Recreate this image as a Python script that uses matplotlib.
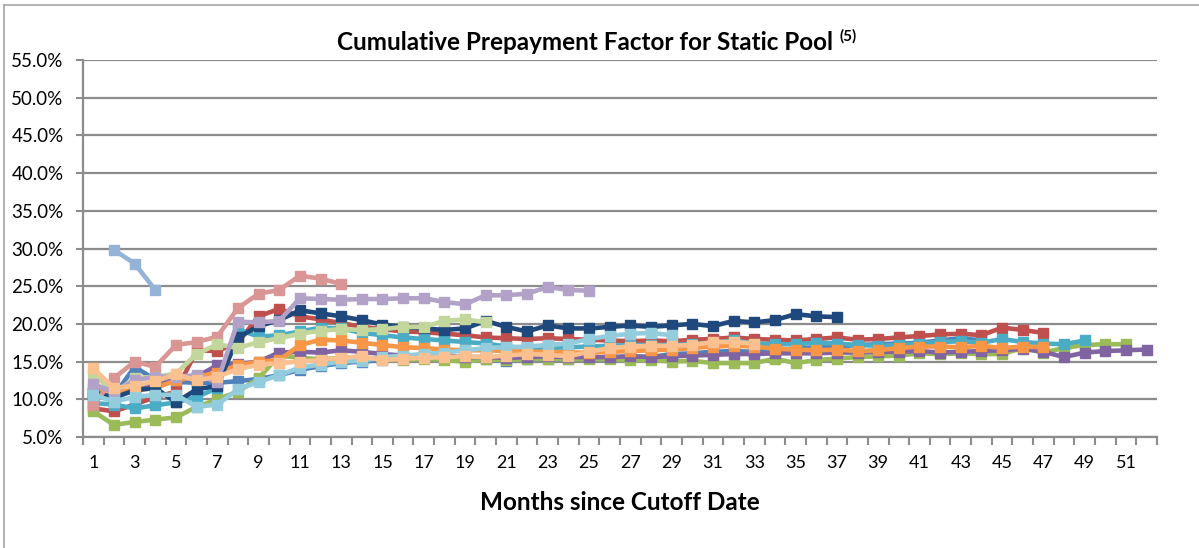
import numpy as np
import matplotlib
matplotlib.use("Agg")
from matplotlib import pyplot as plt
from matplotlib.lines import Line2D

plt.rcParams['font.family'] = ['Lato', 'DejaVu Sans']

# Cumulative prepayment factor (%) by months since cutoff, one list per pool
blue = [10.2, 10.5, 14.3, 12.6, 12.3, 12.2, 12.2, 12.4, 12.7, 13.2, 13.9, 14.4, 14.8, 15.0, 15.2, 15.4,
        15.5, 15.5, 15.4, 15.3, 15.1, 15.3, 15.4, 15.3, 15.5, 15.5, 15.7, 15.6, 16.0, 16.1, 16.3, 16.4,
        16.3, 16.5, 16.7, 16.9, 17.0, 17.2, 17.3, 17.4, 17.5, 17.8, 18.1, 17.8]
red = [8.8, 8.4, 9.3, 10.3, 11.0, 16.5, 16.4, 17.5, 21.0, 22.0, 21.0, 20.6, 20.1, 19.6, 19.3, 19.0,
       18.9, 18.7, 18.5, 18.2, 18.1, 18.0, 18.1, 18.0, 17.9, 17.8, 17.7, 17.8, 17.7, 17.9, 18.0, 18.2,
       18.0, 17.9, 17.8, 18.0, 18.2, 17.9, 18.0, 18.2, 18.4, 18.6, 18.7, 18.5, 19.5, 19.2, 18.8]
green = [8.4, 6.6, 7.0, 7.3, 7.6, 9.0, 10.0, 11.0, 12.8, 15.8, 15.5, 15.3, 15.5, 15.4, 15.3, 15.2,
         15.4, 15.2, 15.0, 15.3, 15.2, 15.3, 15.4, 15.3, 15.4, 15.3, 15.2, 15.2, 15.0, 15.1, 14.8, 14.8,
         14.8, 15.4, 14.8, 15.2, 15.4, 15.6, 15.7, 15.8, 16.1, 16.0, 16.1, 16.0, 16.0, 16.8, 16.2, 16.8,
         17.2, 17.3, 17.3]
purple = [10.8, 10.3, 11.5, 12.0, 12.8, 13.0, 14.5, 14.7, 15.0, 16.2, 16.3, 16.2, 16.5, 16.3, 16.0, 15.8,
          15.7, 15.8, 15.6, 15.6, 15.5, 15.6, 15.7, 15.6, 15.6, 15.6, 15.7, 15.6, 15.7, 15.8, 15.9, 16.0,
          16.0, 16.1, 16.1, 16.1, 16.2, 16.2, 16.3, 16.3, 16.4, 16.2, 16.3, 16.4, 16.5, 16.7, 16.3, 15.6,
          16.2, 16.4, 16.5, 16.6]
aqua = [9.5, 9.3, 8.8, 9.2, 9.6, 10.3, 11.5, 19.3, 18.3, 18.5, 19.0, 19.5, 19.4, 18.8, 18.5, 18.2,
        18.0, 17.8, 17.6, 17.4, 17.0, 16.8, 16.8, 16.9, 17.0, 17.1, 17.2, 17.2, 17.2, 17.3, 17.5, 17.8,
        17.4, 17.3, 17.3, 17.5, 17.4, 17.2, 17.1, 17.2, 17.4, 17.6, 17.7, 17.5, 18.0, 17.6, 17.4, 17.3,
        17.8]
orange = [11.5, 11.0, 11.2, 11.5, 12.5, 13.0, 13.5, 14.5, 15.0, 15.2, 17.2, 17.9, 17.8, 17.5, 17.2, 16.9,
          16.8, 16.6, 16.5, 16.5, 16.4, 16.3, 16.3, 16.2, 16.2, 16.3, 16.4, 16.5, 16.6, 16.8, 17.0, 17.1,
          17.0, 16.7, 16.6, 16.5, 16.6, 16.4, 16.5, 16.8, 17.0, 17.0, 16.9, 17.1, 16.8, 17.0, 16.9]
navy = [11.0, 10.2, 11.2, 11.5, 9.6, 11.3, 11.8, 18.2, 19.7, 20.5, 21.8, 21.4, 21.0, 20.5, 19.9, 19.6,
        19.4, 19.2, 19.4, 20.4, 19.6, 19.0, 19.8, 19.4, 19.4, 19.6, 19.8, 19.6, 19.8, 20.0, 19.7, 20.4,
        20.2, 20.5, 21.3, 21.0, 20.9]
light_blue = [np.nan, 29.8, 28.0, 24.5]
light_red = [9.2, 12.8, 15.0, 14.3, 17.2, 17.6, 18.3, 22.1, 24.0, 24.5, 26.4, 26.0, 25.3]
light_green = [13.4, 10.8, 12.8, 13.0, 13.4, 16.0, 17.3, 16.8, 17.6, 18.1, 18.7, 19.1, 19.3, 19.2, 19.3,
               19.6, 19.6, 20.4, 20.6, 20.2]
light_purple = [12.0, 11.0, 12.5, 13.0, 13.0, 13.2, 12.3, 20.3, 20.2, 20.4, 23.4, 23.3, 23.2, 23.3, 23.3,
                23.4, 23.4, 22.9, 22.6, 23.8, 23.8, 24.0, 24.9, 24.5, 24.4]
light_aqua = [10.6, 9.7, 10.3, 10.6, 10.6, 9.0, 9.3, 11.3, 12.3, 13.2, 14.2, 14.6, 15.0, 15.1, 15.6, 15.8,
              16.0, 16.2, 16.5, 16.8, 16.9, 17.0, 17.2, 17.4, 18.0, 18.4, 18.7, 18.8, 18.5]
light_orange = [14.1, 11.5, 11.8, 12.4, 13.3, 12.5, 13.0, 14.0, 14.6, 14.8, 15.0, 15.2, 15.5, 15.7, 15.2,
                15.4, 15.5, 15.6, 15.7, 15.6, 15.8, 16.0, 15.9, 15.7, 16.3, 16.8, 17.0, 17.1, 17.1, 17.2,
                17.6, 17.6, 17.4]

series = [
    (blue, '#4F81BD'), (red, '#C0504D'), (green, '#9BBB59'), (purple, '#8064A2'),
    (aqua, '#4BACC6'), (orange, '#F79646'), (navy, '#1F497D'), (light_blue, '#95B3D7'),
    (light_red, '#D99694'), (light_green, '#C3D69B'), (light_purple, '#B3A2C7'),
    (light_aqua, '#93CDDD'), (light_orange, '#FAC090'),
]
n_months = 52

fig = plt.figure(figsize=(11.99, 5.48), dpi=100)
ax = fig.add_axes([83 / 1199, 1 - 437 / 548, (1157 - 83) / 1199, (437 - 60) / 548])

for vals, col in series:
    months = np.arange(1, len(vals) + 1)
    ax.plot(months, vals, color=col, lw=3.3, marker='s', ms=6.8, mec=col, mfc=col,
            solid_joinstyle='round', clip_on=False, zorder=3)

ax.set_xlim(0.5, n_months + 0.5)
ax.set_ylim(5, 55)
yt = np.arange(5, 56, 5)
ax.set_yticks(yt)
ax.set_yticklabels(['%.1f%%' % v for v in yt], fontsize=13.5)
ax.yaxis.grid(True, color='#8C8C8C', lw=1.6, zorder=0)
ax.set_axisbelow(True)

ax.set_xticks(np.arange(0.5, n_months + 1, 1))
ax.set_xticklabels([])
ax.set_xticks(np.arange(1, n_months + 1, 2), minor=True)
ax.set_xticklabels([str(m) for m in range(1, n_months + 1, 2)], minor=True, fontsize=13)
ax.tick_params(axis='x', which='major', length=6, width=1.5, color='#8C8C8C', direction='out')
ax.tick_params(axis='x', which='minor', length=0, pad=13)
ax.tick_params(axis='y', length=5, width=1.5, color='#8C8C8C', pad=9)

for s in ['top', 'right']:
    ax.spines[s].set_visible(False)
for s in ['left', 'bottom']:
    ax.spines[s].set_color('#8C8C8C')
    ax.spines[s].set_linewidth(1.6)

ax.set_xlabel('Months since Cutoff Date', fontsize=17.5, fontweight='bold', labelpad=14)

t = fig.text(0.488, 1 - 42 / 548, 'Cumulative Prepayment Factor for Static Pool',
             ha='center', va='center', fontsize=17.5, fontweight='bold')
fig.canvas.draw()
bb = t.get_window_extent()
fig.text((bb.x1 + 6) / 1199, (bb.y1 + 1) / 548, '(5)', ha='left', va='top',
         fontsize=11, fontweight='bold')

# chart area border
fig.add_artist(Line2D([4 / 1199, 4 / 1199], [0, 1 - 5 / 548], color='#A6A6A6', lw=1.2))
fig.add_artist(Line2D([4 / 1199, 1], [1 - 5 / 548, 1 - 5 / 548], color='#A6A6A6', lw=1.2))

fig.savefig('out.png', dpi=100)
